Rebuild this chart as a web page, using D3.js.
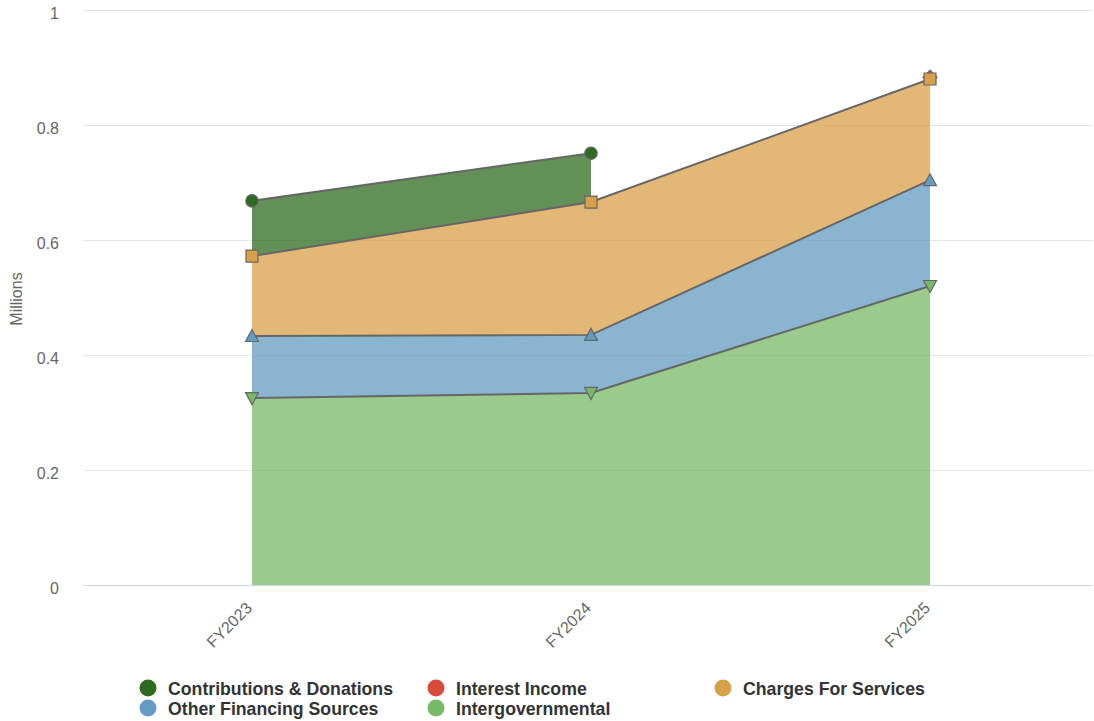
<!DOCTYPE html>
<html>
<head>
<meta charset="utf-8">
<script src="https://cdn.jsdelivr.net/npm/d3@7"></script>
<style>
  body { margin: 0; background: #fff; }
  svg { display: block; font-family: "Liberation Sans", Arial, Helvetica, sans-serif; }
</style>
</head>
<body>
<svg id="chart" width="1094" height="721"></svg>
<script>
// ---- data ----
const categories = ["FY2023", "FY2024", "FY2025"];
const seriesNames = ["Contributions & Donations", "Interest Income", "Charges For Services", "Other Financing Sources", "Intergovernmental"];
const contributions = [0.096, 0.085, null];
const interestIncome = [null, null, 0.003];
const chargesForServices = [0.139, 0.231, 0.176];
const otherFinancing = [0.108, 0.101, 0.184];
const intergovernmental = [0.325, 0.334, 0.520];
const yTicks = [0, 0.2, 0.4, 0.6, 0.8, 1];
const colors = ["#2f6b1f", "#d94a3b", "#d9a04a", "#639cc2", "#78b965"];
const symbols = ["circle", "diamond", "square", "triangle", "triangle-down"];

const seriesValues = [contributions, interestIncome, chargesForServices, otherFinancing, intergovernmental];

// ---- layout ----
const svg = d3.select("#chart");
const plot = { left: 83, right: 1093, top: 10, bottom: 585 };

const x = d3.scaleBand().domain(categories).range([82.5, 1099.5]).padding(0);
const xc = c => x(c) + x.bandwidth() / 2;
const y = d3.scaleLinear().domain([0, 1]).range([plot.bottom, plot.top]);

// gridlines
svg.append("g").selectAll("line").data(yTicks.filter(t => t > 0)).join("line")
  .attr("x1", plot.left).attr("x2", plot.right)
  .attr("y1", d => y(d) + 0.5).attr("y2", d => y(d) + 0.5)
  .attr("stroke", "#e6e6e6").attr("stroke-width", 1);

// y axis labels
const yAxis = d3.axisLeft(y).tickValues(yTicks).tickSize(0).tickPadding(0)
  .tickFormat(d => d3.format("~g")(d));
const yg = svg.append("g").attr("transform", `translate(59,0)`).call(yAxis);
yg.select(".domain").remove();
yg.selectAll("text").attr("font-size", 16).attr("fill", "#666").attr("dy", "0.55em")
  .style("font-family", "'Liberation Sans', Arial, sans-serif");

svg.append("text").attr("transform", "translate(22,299) rotate(-90)")
  .attr("text-anchor", "middle").attr("font-size", 16).attr("fill", "#666").text("Millions");

// stacking: bottom to top = reverse series order
const stackOrder = [4, 3, 2, 1, 0];
const bases = categories.map(() => 0);
const stacked = [];
stackOrder.forEach(si => {
  const vals = seriesValues[si];
  stacked[si] = categories.map((c, i) => {
    const v = vals[i];
    if (v == null) return { c, v: null };
    const y0 = bases[i];
    const y1 = y0 + v;
    bases[i] = y1;
    return { c, v, y0, y1 };
  });
});

const area = d3.area().defined(d => d.v != null)
  .x(d => xc(d.c)).y0(d => y(d.y0)).y1(d => y(d.y1));
const line = d3.line().defined(d => d.v != null)
  .x(d => xc(d.c)).y(d => y(d.y1));

function markerPath(shape) {
  if (shape === "triangle-down") return "M-6.5,-5.5L6.5,-5.5L0,6.5Z";
  if (shape === "triangle") return "M0,-6.5L6.5,5.5L-6.5,5.5Z";
  if (shape === "square") return "M-6,-6H6V6H-6Z";
  if (shape === "diamond") return "M0,-7L7,0L0,7L-7,0Z";
  return d3.symbol(d3.symbolCircle, 120)();
}

// draw series in index order (later on top)
seriesValues.forEach((vals, si) => {
  const g = svg.append("g");
  const data = stacked[si];
  g.append("path").datum(data).attr("d", area)
    .attr("fill", colors[si]).attr("fill-opacity", 0.75);
  g.append("path").datum(data).attr("d", line)
    .attr("fill", "none").attr("stroke", "#666").attr("stroke-width", 2);
  g.selectAll("path.m").data(data.filter(d => d.v != null)).join("path")
    .attr("class", "m")
    .attr("transform", d => `translate(${xc(d.c)},${y(d.y1)})`)
    .attr("d", markerPath(symbols[si]))
    .attr("fill", colors[si]).attr("stroke", "#666").attr("stroke-width", 1.2);
});

// x axis line
svg.append("line").attr("x1", plot.left).attr("x2", plot.right)
  .attr("y1", plot.bottom + 0.5).attr("y2", plot.bottom + 0.5)
  .attr("stroke", "#ccd6eb").attr("stroke-width", 1);

// x labels rotated
svg.append("g").selectAll("text").data(categories).join("text")
  .attr("transform", d => `translate(${xc(d) + 1},609) rotate(-45)`)
  .attr("text-anchor", "end").attr("font-size", 16).attr("fill", "#666")
  .text(d => d);

// legend
const legendItems = [
  { i: 0, x: 148, y: 688 }, { i: 1, x: 436, y: 688 }, { i: 2, x: 723, y: 688 },
  { i: 3, x: 148, y: 708 }, { i: 4, x: 436, y: 708 }
];
const lg = svg.append("g");
legendItems.forEach(it => {
  lg.append("circle").attr("cx", it.x).attr("cy", it.y).attr("r", 8.5).attr("fill", colors[it.i]);
  lg.append("text").attr("x", it.x + 20).attr("y", it.y + 6.5)
    .attr("font-size", 17.7).attr("font-weight", "bold").attr("fill", "#333")
    .text(seriesNames[it.i]);
});
</script>
</body>
</html>
